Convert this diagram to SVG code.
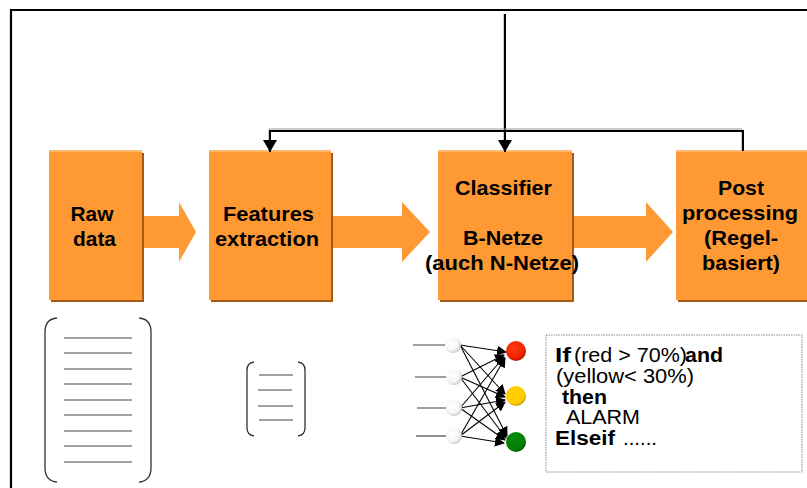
<svg xmlns="http://www.w3.org/2000/svg" width="807" height="488" viewBox="0 0 807 488">
<defs>
<style>
.box{fill:#FF9933}
.sh{fill:#A65A1A}
.hl{fill:#FFB870}
.lbl{font-family:"Liberation Sans",Arial,sans-serif;font-weight:bold;font-size:20.5px;fill:#000;text-anchor:middle}
.conn{stroke:#000;stroke-width:2;fill:none}
.connsh{stroke:#999;stroke-width:1;fill:none}
.bar{stroke:#333;stroke-width:1.3;fill:none}
.rule{stroke:#444;stroke-width:1.2}
.nn{stroke:#000;stroke-width:1.1;fill:none}
.rt{font-family:"Liberation Sans",Arial,sans-serif;font-size:19.5px;fill:#000}
.b{font-weight:bold}
</style>
<marker id="ah" markerWidth="10" markerHeight="10" refX="9" refY="5" orient="auto" markerUnits="userSpaceOnUse">
<path d="M0,0 L10,5 L0,10 Z" fill="#000"/>
</marker>
<marker id="ahs" markerWidth="12" markerHeight="14" refX="12" refY="7" orient="auto" markerUnits="userSpaceOnUse">
<path d="M0,0 L12,7 L0,14 Z" fill="#000"/>
</marker>
<radialGradient id="gin" cx="0.4" cy="0.4" r="0.7">
<stop offset="0" stop-color="#fff"/><stop offset="0.6" stop-color="#f6f6f6"/><stop offset="1" stop-color="#bbb"/>
</radialGradient>
<radialGradient id="gred" cx="0.4" cy="0.35" r="0.7">
<stop offset="0" stop-color="#ff3a10"/><stop offset="0.75" stop-color="#ee2200"/><stop offset="1" stop-color="#a01000"/>
</radialGradient>
<radialGradient id="gyel" cx="0.4" cy="0.35" r="0.7">
<stop offset="0" stop-color="#ffd000"/><stop offset="0.75" stop-color="#ffcc00"/><stop offset="1" stop-color="#b08800"/>
</radialGradient>
<radialGradient id="ggrn" cx="0.4" cy="0.35" r="0.7">
<stop offset="0" stop-color="#0a8a0a"/><stop offset="0.75" stop-color="#008000"/><stop offset="1" stop-color="#005000"/>
</radialGradient>
</defs>
<rect width="807" height="488" fill="#fff"/>
<!-- frame -->
<path d="M11,488 V10 H807" stroke="#000" stroke-width="2.2" fill="none"/>

<!-- block arrows -->
<g id="arrow1"><path d="M142,216 H179 V202 L196,232 L179,262 V248 H142 Z" class="box"/></g>
<g id="arrow2"><path d="M331,216 H402 V202 L430,232 L402,262 V248 H331 Z" class="box"/></g>
<g id="arrow3"><path d="M572,216 H646 V202 L673,232 L646,262 V248 H572 Z" class="box"/></g>

<g id="raw">
<rect x="51" y="153" width="93" height="149" class="sh"/>
<rect x="49" y="151" width="93" height="149" class="box"/>
<rect x="49" y="150" width="93" height="2" class="hl"/>
<text class="lbl" x="92" y="221" textLength="43" lengthAdjust="spacingAndGlyphs">Raw</text>
<text class="lbl" x="94.5" y="246" textLength="43" lengthAdjust="spacingAndGlyphs">data</text>
</g>
<g id="features">
<rect x="211" y="153" width="122" height="149" class="sh"/>
<rect x="209" y="151" width="122" height="149" class="box"/>
<rect x="209" y="150" width="122" height="2" class="hl"/>
<text class="lbl" x="268.5" y="221" textLength="91" lengthAdjust="spacingAndGlyphs">Features</text>
<text class="lbl" x="267" y="246" textLength="104" lengthAdjust="spacingAndGlyphs">extraction</text>
</g>
<g id="classifier">
<rect x="440" y="153" width="134" height="149" class="sh"/>
<rect x="438" y="151" width="134" height="149" class="box"/>
<rect x="438" y="150" width="134" height="2" class="hl"/>
<text class="lbl" x="503.5" y="195" textLength="97" lengthAdjust="spacingAndGlyphs">Classifier</text>
<text class="lbl" x="503" y="245" textLength="80" lengthAdjust="spacingAndGlyphs">B-Netze</text>
<text class="lbl" x="502" y="270" textLength="154" lengthAdjust="spacingAndGlyphs">(auch N-Netze)</text>
</g>
<g id="post">
<rect x="678" y="153" width="131" height="149" class="sh"/>
<rect x="676" y="151" width="131" height="149" class="box"/>
<rect x="676" y="150" width="131" height="2" class="hl"/>
<text class="lbl" x="741" y="195" textLength="46" lengthAdjust="spacingAndGlyphs">Post</text>
<text class="lbl" x="740" y="220" textLength="116" lengthAdjust="spacingAndGlyphs">processing</text>
<text class="lbl" x="741" y="245" textLength="74" lengthAdjust="spacingAndGlyphs">(Regel-</text>
<text class="lbl" x="741" y="270" textLength="78" lengthAdjust="spacingAndGlyphs">basiert)</text>
</g>

<g id="connectors">
<path d="M504,14 V151" class="connsh"/>
<path d="M505,14 V152" class="conn" marker-end="url(#ahs)"/>
<path d="M742,151 V129 H269 V151" class="connsh"/>
<path d="M743,151 V131 H270 V152" class="conn" marker-end="url(#ahs)"/>
</g>

<!-- big vector bracket -->
<g id="rawvector">
<path d="M57,318 Q45,319 45,332 V468 Q45,481 57,482" class="bar"/>
<path d="M139,318 Q151,319 151,332 V468 Q151,481 139,482" class="bar"/>
<g class="rule">
<line x1="64" y1="338" x2="132" y2="338"/>
<line x1="64" y1="353" x2="132" y2="353"/>
<line x1="64" y1="369" x2="132" y2="369"/>
<line x1="64" y1="384" x2="132" y2="384"/>
<line x1="64" y1="400" x2="132" y2="400"/>
<line x1="64" y1="415" x2="132" y2="415"/>
<line x1="64" y1="431" x2="132" y2="431"/>
<line x1="64" y1="446" x2="132" y2="446"/>
<line x1="64" y1="462" x2="132" y2="462"/>
</g>
</g>
<g id="featvector">
<path d="M254,362 Q247,363 247,370 V428 Q247,435 254,436" class="bar"/>
<path d="M298,362 Q305,363 305,370 V428 Q305,435 298,436" class="bar"/>
<g class="rule">
<line x1="259" y1="375" x2="293" y2="375"/>
<line x1="258" y1="390" x2="292" y2="390"/>
<line x1="258" y1="406" x2="293" y2="406"/>
<line x1="259" y1="420" x2="293" y2="420"/>
</g>
</g>

<g id="network">
<g class="rule">
<line x1="413" y1="345" x2="447" y2="345"/>
<line x1="415" y1="377" x2="448" y2="377"/>
<line x1="417" y1="408" x2="450" y2="408"/>
<line x1="416" y1="436" x2="447" y2="436"/>
</g>
<g class="nn" marker-end="url(#ah)">
<line x1="460" y1="345" x2="506" y2="352"/>
<line x1="460" y1="345" x2="505" y2="394"/>
<line x1="460" y1="345" x2="507" y2="436"/>
<line x1="460" y1="377" x2="504" y2="355"/>
<line x1="460" y1="377" x2="505" y2="397"/>
<line x1="460" y1="377" x2="506" y2="438"/>
<line x1="460" y1="408" x2="504" y2="357"/>
<line x1="460" y1="408" x2="505" y2="400"/>
<line x1="460" y1="408" x2="505" y2="440"/>
<line x1="460" y1="436" x2="505" y2="358"/>
<line x1="460" y1="436" x2="505" y2="402"/>
<line x1="460" y1="436" x2="504" y2="443"/>
</g>
<circle cx="453" cy="345" r="8" fill="url(#gin)"/>
<circle cx="454" cy="377" r="8" fill="url(#gin)"/>
<circle cx="454" cy="408" r="8" fill="url(#gin)"/>
<circle cx="454" cy="436" r="8" fill="url(#gin)"/>
<circle cx="516" cy="351" r="10" fill="url(#gred)"/>
<circle cx="516" cy="396" r="10" fill="url(#gyel)"/>
<circle cx="516" cy="442" r="10" fill="url(#ggrn)"/>
</g>

<g id="rules">
<rect x="546" y="335" width="256" height="137" fill="#fff" stroke="#888" stroke-width="1" stroke-dasharray="1.5,1"/>
<text class="rt" y="362"><tspan x="555" class="b" textLength="16" lengthAdjust="spacingAndGlyphs">If</tspan><tspan x="574" textLength="113" lengthAdjust="spacingAndGlyphs">(red &gt; 70%)</tspan><tspan x="685" class="b" textLength="38" lengthAdjust="spacingAndGlyphs">and</tspan></text>
<text class="rt" x="556" y="383" textLength="138" lengthAdjust="spacingAndGlyphs">(yellow&lt; 30%)</text>
<text class="rt b" x="562" y="404" textLength="45" lengthAdjust="spacingAndGlyphs">then</text>
<text class="rt" x="566" y="424" textLength="74" lengthAdjust="spacingAndGlyphs">ALARM</text>
<text class="rt" y="445"><tspan x="555" class="b" textLength="60" lengthAdjust="spacingAndGlyphs">Elseif</tspan><tspan x="623" textLength="34" lengthAdjust="spacingAndGlyphs">......</tspan></text>
</g>
</svg>
